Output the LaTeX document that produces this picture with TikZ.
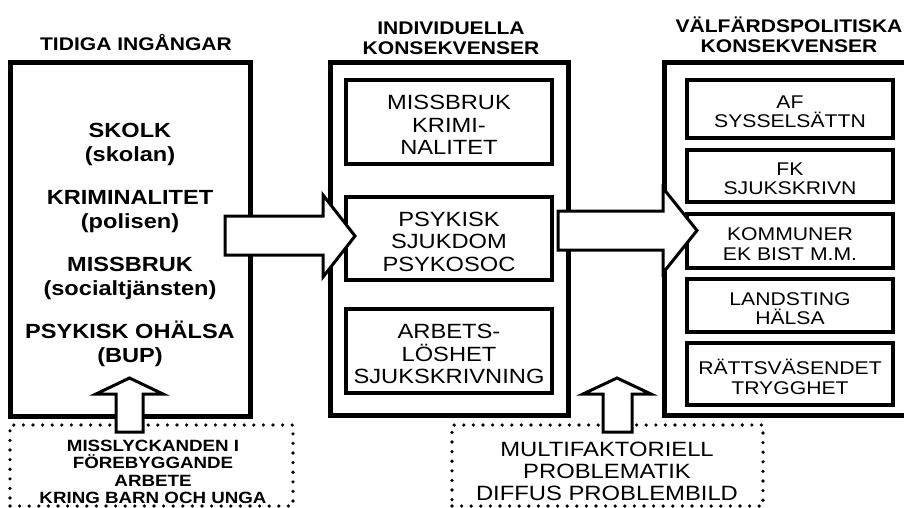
\documentclass[tikz,border=0pt]{standalone}
\usepackage{fontspec}
\setmainfont{Liberation Sans}[FakeStretch=1.15]
\begin{document}
\begin{tikzpicture}[x=1pt,y=-1pt,
  outerbox/.style={draw, line width=5pt, inner sep=0pt},
  innerbox/.style={draw, line width=3.2pt, inner sep=0pt, minimum width=206pt},
  boxtext/.style={align=center, inner sep=0pt, font=\fontsize{20.6}{22.5}\selectfont},
  rightboxtext/.style={align=center, inner sep=0pt, font=\fontsize{18.4}{19.5}\selectfont},
  heading/.style={align=center, inner sep=0pt, font=\fontsize{18.3}{20}\selectfont\bfseries},
  lefttext/.style={align=center, inner sep=0pt, font=\fontsize{20.5}{24}\selectfont\bfseries},
  blockarrow/.style={draw, fill=white, line width=3pt, line join=miter},
  dotbox/.style={draw, line width=3.6pt, dash pattern=on 0pt off 9.6pt, line cap=round, inner sep=0pt},
  dottext/.style={align=center, inner sep=0pt},
]
\useasboundingbox (0,0) rectangle (904,507);
\clip (0,0) rectangle (904,507);

% headings
\node[heading] (h1) at (136,42.5) {TIDIGA INGÅNGAR};
\node[heading] (h2) at (451,38.5) {INDIVIDUELLA\\KONSEKVENSER};
\node[heading] (h3) at (789,35) {VÄLFÄRDSPOLITISKA\\KONSEKVENSER};

% outer boxes
\node[outerbox, minimum width=240pt, minimum height=354pt] (tidiga) at (130,239) {};
\node[outerbox, minimum width=238pt, minimum height=353pt] (indiv) at (449,238.5) {};
\node[outerbox, minimum width=251pt, minimum height=353pt] (valf) at (789.5,238.5) {};

% left text
\node[lefttext] (ltext) at (130,245) {SKOLK\\(skolan)\\[19pt]KRIMINALITET\\(polisen)\\[19pt]MISSBRUK\\(socialtjänsten)\\[19pt]PSYKISK OHÄLSA\\(BUP)};

% middle inner boxes
\node[innerbox, minimum height=84pt] (m1) at (449,122) {};
\node[innerbox, minimum height=83pt] (m2) at (449,238.5) {};
\node[innerbox, minimum height=84pt] (m3) at (449,351) {};
\node[boxtext] (m1t) at ([yshift=-3pt]m1.center) {MISSBRUK\\KRIMI-\\NALITET};
\node[boxtext] (m2t) at ([yshift=-3pt]m2.center) {PSYKISK\\SJUKDOM\\PSYKOSOC};
\node[boxtext] (m3t) at ([yshift=-3pt]m3.center) {ARBETS-\\LÖSHET\\SJUKSKRIVNING};

% right inner boxes
\node[innerbox, minimum height=58pt] (r1) at (790,109) {};
\node[innerbox, minimum height=52pt] (r2) at (790,176) {};
\node[innerbox, minimum height=54pt] (r3) at (790,241) {};
\node[innerbox, minimum height=53pt] (r4) at (790,305.5) {};
\node[innerbox, minimum height=62pt] (r5) at (790,374) {};
\node[rightboxtext] (r1t) at ([yshift=-3pt]r1.center) {AF\\SYSSELSÄTTN};
\node[rightboxtext] (r2t) at ([yshift=-3pt]r2.center) {FK\\SJUKSKRIVN};
\node[rightboxtext] (r3t) at ([yshift=-3pt]r3.center) {KOMMUNER\\EK BIST M.M.};
\node[rightboxtext] (r4t) at ([yshift=-3pt]r4.center) {LANDSTING\\HÄLSA};
\node[rightboxtext] (r5t) at ([yshift=-3pt]r5.center) {RÄTTSVÄSENDET\\TRYGGHET};

% dotted boxes
\node[dotbox, minimum width=283pt, minimum height=81pt] (d1) at (151.5,465.5) {};
\node[dotbox, minimum width=311pt, minimum height=81pt] (d2) at (607.5,465.5) {};
\node[dottext, font=\fontsize{16.3}{17.3}\selectfont\bfseries] (d1t) at (153,472) {MISSLYCKANDEN I\\FÖREBYGGANDE\\ARBETE\\KRING BARN OCH UNGA};
\node[dottext, font=\fontsize{20.7}{22}\selectfont] (d2t) at (607,471) {MULTIFAKTORIELL\\PROBLEMATIK\\DIFFUS PROBLEMBILD};

% block arrows
\draw[blockarrow] (225,216) -- (323,216) -- (323,195) -- (355,236) -- (323,277) -- (323,255) -- (225,255) -- cycle;
\draw[blockarrow] (558,211) -- (663,211) -- (663,188) -- (697,230.5) -- (663,273) -- (663,250) -- (558,250) -- cycle;
\draw[blockarrow] (116,432) -- (116,394) -- (96,394) -- (129.5,378) -- (163,394) -- (143,394) -- (143,432) -- cycle;
\draw[blockarrow] (603,432) -- (603,394) -- (583,394) -- (617,378) -- (651,394) -- (632,394) -- (632,432) -- cycle;
\end{tikzpicture}
\end{document}
